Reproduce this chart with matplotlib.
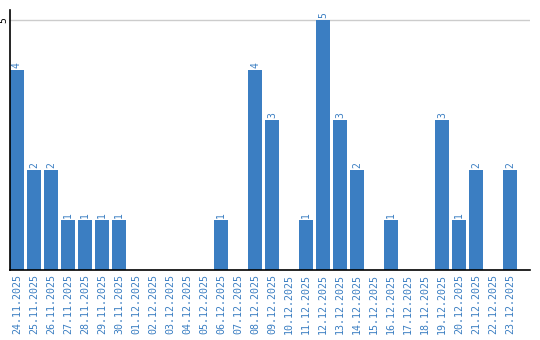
import matplotlib
matplotlib.use("Agg")
import matplotlib.pyplot as plt

dates = ["24.11.2025", "25.11.2025", "26.11.2025", "27.11.2025", "28.11.2025",
         "29.11.2025", "30.11.2025", "01.12.2025", "02.12.2025", "03.12.2025",
         "04.12.2025", "05.12.2025", "06.12.2025", "07.12.2025", "08.12.2025",
         "09.12.2025", "10.12.2025", "11.12.2025", "12.12.2025", "13.12.2025",
         "14.12.2025", "15.12.2025", "16.12.2025", "17.12.2025", "18.12.2025",
         "19.12.2025", "20.12.2025", "21.12.2025", "22.12.2025", "23.12.2025"]
counts = [4, 2, 2, 1, 1, 1, 1, 0, 0, 0, 0, 0, 1, 0, 4, 3, 0, 1, 5, 3, 2, 0, 1, 0, 0, 3, 1, 2, 0, 2]

blue = "#3b7ec2"
fig = plt.figure(figsize=(5.4, 3.4), dpi=100)
ax = fig.add_axes([10 / 540, 70 / 340, 520 / 540, 260 / 340])

x = list(range(len(dates)))
ax.bar(x, counts, width=14 / 17, color=blue, zorder=2)
for i, c in enumerate(counts):
    if c > 0:
        ax.text(i, c + 0.04, str(c), rotation=90, ha="center", va="bottom",
                color=blue, fontsize=7, family="DejaVu Sans Mono")

ax.set_xlim(-0.41, 30.17)
ax.set_ylim(0, 5.2)
ax.axhline(5, color="#cccccc", lw=1, zorder=1)

ax.set_xticks(x)
ax.set_xticklabels(dates, rotation=90, color=blue, fontsize=7.2, family="DejaVu Sans Mono")
ax.set_yticks([5])
ax.set_yticklabels(["5"], rotation=90, fontsize=7, va="center", family="DejaVu Sans Mono")
ax.tick_params(axis="both", length=0, pad=3)
ax.tick_params(axis="y", pad=1)

for s in ["top", "right"]:
    ax.spines[s].set_visible(False)
ax.spines["left"].set_linewidth(1.2)
ax.spines["bottom"].set_linewidth(1.2)

fig.savefig("out.png", dpi=100)
